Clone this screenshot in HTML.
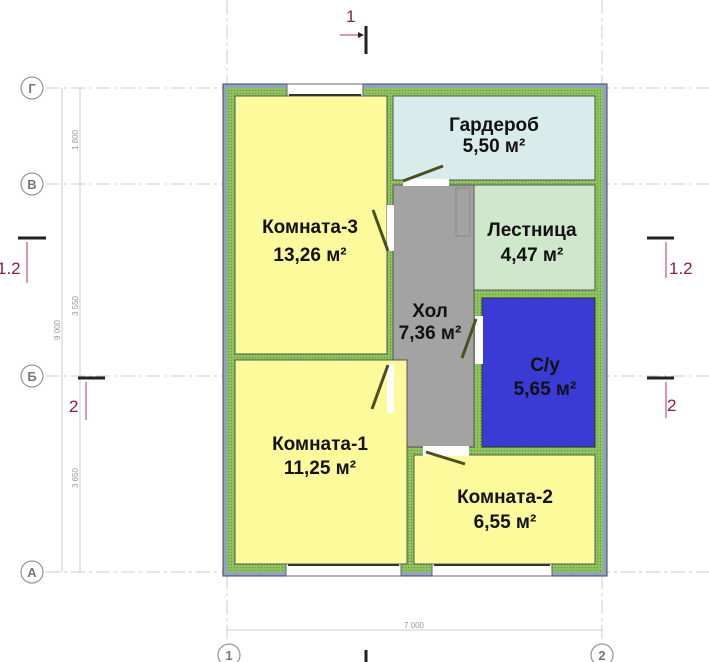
<!DOCTYPE html>
<html><head><meta charset="utf-8"><style>
html,body{margin:0;padding:0;background:#fff;}
svg{display:block;}
text{font-family:"Liberation Sans",sans-serif;}
.lbl{font-weight:bold;font-size:19px;fill:#111;text-anchor:middle;}
.g{stroke:#ccc;stroke-width:1;stroke-dasharray:14 4 3 4;fill:none;}
.ax{fill:#fff;stroke:#999;stroke-width:1.3;}
.axt{font-size:13px;fill:#777;text-anchor:middle;font-weight:bold;}
.sec{fill:#8b1a4e;font-size:17px;}
.dim{font-size:8px;fill:#999;}
</style></head><body>
<svg width="709" height="662" viewBox="0 0 709 662" xmlns="http://www.w3.org/2000/svg">
<defs>
<pattern id="gp" width="3" height="3" patternUnits="userSpaceOnUse">
<rect width="3" height="3" fill="#8cc45a"/><rect width="1" height="1" fill="#5f8f3a"/>
</pattern>
</defs>
<line class="g" x1="46" y1="88" x2="709" y2="88"/>
<line class="g" x1="46" y1="184" x2="709" y2="184"/>
<line class="g" x1="46" y1="376" x2="709" y2="376"/>
<line class="g" x1="46" y1="572" x2="709" y2="572"/>
<line class="g" x1="227" y1="0" x2="227" y2="640"/>
<line class="g" x1="602" y1="0" x2="602" y2="640"/>
<line x1="62" y1="88" x2="62" y2="572" stroke="#ccc"/>
<line x1="80" y1="88" x2="80" y2="572" stroke="#ccc"/>
<line x1="227" y1="630" x2="602" y2="630" stroke="#ccc"/>
<text class="dim" transform="translate(78,140) rotate(-90)" text-anchor="middle">1 800</text>
<text class="dim" transform="translate(78,306) rotate(-90)" text-anchor="middle">3 550</text>
<text class="dim" transform="translate(60,330) rotate(-90)" text-anchor="middle">9 000</text>
<text class="dim" transform="translate(78,478) rotate(-90)" text-anchor="middle">3 650</text>
<text class="dim" x="414" y="628" text-anchor="middle">7 000</text>
<circle class="ax" cx="32" cy="88" r="11"/><text class="axt" x="32" y="93">Г</text>
<circle class="ax" cx="32" cy="184" r="11"/><text class="axt" x="32" y="189">В</text>
<circle class="ax" cx="32" cy="376" r="11"/><text class="axt" x="32" y="381">Б</text>
<circle class="ax" cx="32" cy="572" r="11"/><text class="axt" x="32" y="577">А</text>
<circle class="ax" cx="229" cy="655" r="11"/><text class="axt" x="229" y="660">1</text>
<circle class="ax" cx="602" cy="655" r="11"/><text class="axt" x="602" y="660">2</text>
<line x1="366" y1="26" x2="366" y2="54" stroke="#222" stroke-width="3"/>
<line x1="340" y1="35" x2="362" y2="35" stroke="#b0306a" stroke-width="1"/>
<polygon points="364,35 358,32 358,38" fill="#222"/>
<text class="sec" x="346" y="22">1</text>
<line x1="366" y1="650" x2="366" y2="662" stroke="#222" stroke-width="3"/>
<line x1="18" y1="238" x2="46" y2="238" stroke="#222" stroke-width="3"/>
<line x1="27" y1="242" x2="27" y2="283" stroke="#b0306a"/>
<text class="sec" x="-3" y="274">1.2</text>
<line x1="78" y1="378" x2="105" y2="378" stroke="#222" stroke-width="3"/>
<line x1="86" y1="382" x2="86" y2="420" stroke="#b0306a"/>
<text class="sec" x="69" y="412">2</text>
<line x1="647" y1="238" x2="674" y2="238" stroke="#222" stroke-width="3"/>
<line x1="666" y1="242" x2="666" y2="278" stroke="#b0306a"/>
<text class="sec" x="669" y="274">1.2</text>
<line x1="647" y1="378" x2="674" y2="378" stroke="#222" stroke-width="3"/>
<line x1="666" y1="382" x2="666" y2="418" stroke="#b0306a"/>
<text class="sec" x="667" y="411">2</text>
<rect x="223" y="84" width="384" height="492" fill="#8fa3c8" stroke="#444" stroke-width="1"/>
<rect x="227" y="88" width="376" height="484" fill="url(#gp)"/>
<rect x="235" y="96" width="152" height="258" fill="#fdfa9c" stroke="#555" stroke-width="1"/>
<rect x="393" y="96" width="202" height="84" fill="#d8ecec" stroke="#555" stroke-width="1"/>
<rect x="393" y="185" width="81" height="262" fill="#a3a3a3" stroke="#555" stroke-width="1"/>
<rect x="456" y="188" width="14" height="48" fill="none" stroke="#8a8a8a"/>
<rect x="474" y="185" width="121" height="105" fill="#cfe8cc" stroke="#555" stroke-width="1"/>
<rect x="482" y="298" width="113" height="149" fill="#3a3ad4" stroke="#333" stroke-width="1"/>
<rect x="235" y="360" width="172" height="204" fill="#fdfa9c" stroke="#555" stroke-width="1"/>
<rect x="414" y="455" width="181" height="109" fill="#fdfa9c" stroke="#555" stroke-width="1"/>
<rect x="387" y="205" width="7" height="46" fill="#fff"/>
<rect x="387" y="364" width="7" height="49" fill="#fff"/>
<rect x="403" y="179" width="46" height="7" fill="#fff"/>
<rect x="423" y="446" width="46" height="10" fill="#fff"/>
<rect x="475" y="316" width="8" height="48" fill="#fff"/>
<g stroke="#4a5020" stroke-width="3">
<line x1="373" y1="210" x2="388" y2="251"/>
<line x1="388" y1="365" x2="372" y2="409"/>
<line x1="403" y1="181" x2="443" y2="166"/>
<line x1="426" y1="452" x2="465" y2="464"/>
<line x1="476" y1="319" x2="462" y2="358"/>
</g>
<g fill="#fff" stroke="#666" stroke-width="1">
<rect x="287" y="84" width="76" height="12"/>
<rect x="286" y="564" width="115" height="12"/>
<rect x="432" y="564" width="120" height="12"/>
</g>
<line x1="289" y1="95" x2="361" y2="95" stroke="#333" stroke-width="2"/>
<line x1="288" y1="565" x2="399" y2="565" stroke="#333" stroke-width="2"/>
<line x1="434" y1="565" x2="550" y2="565" stroke="#333" stroke-width="2"/>
<text class="lbl" x="310" y="233">Комната-3</text>
<text class="lbl" x="310" y="261">13,26 м²</text>
<text class="lbl" x="494" y="131">Гардероб</text>
<text class="lbl" x="494" y="152">5,50 м²</text>
<text class="lbl" x="532" y="236">Лестница</text>
<text class="lbl" x="532" y="261">4,47 м²</text>
<text class="lbl" x="430" y="317">Хол</text>
<text class="lbl" x="430" y="339">7,36 м²</text>
<text class="lbl" x="545" y="371">С/у</text>
<text class="lbl" x="545" y="395">5,65 м²</text>
<text class="lbl" x="320" y="450">Комната-1</text>
<text class="lbl" x="320" y="474">11,25 м²</text>
<text class="lbl" x="505" y="503">Комната-2</text>
<text class="lbl" x="505" y="528">6,55 м²</text>
</svg>
</body></html>
